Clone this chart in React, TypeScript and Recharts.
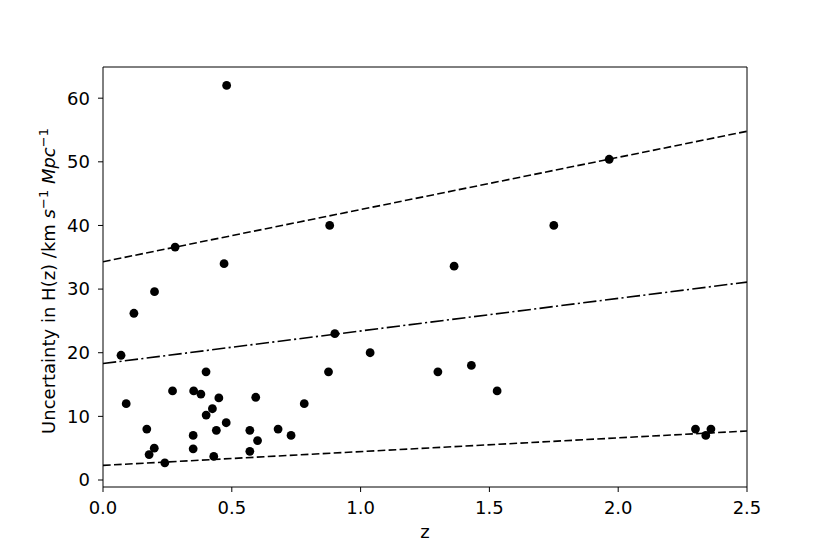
import React from "react";
import {
  ComposedChart,
  Scatter,
  Line,
  XAxis,
  YAxis,
  ReferenceArea,
  Label,
} from "recharts";

// Observational H(z) uncertainties
const zValues = [
  0.07, 0.09, 0.12, 0.17, 0.179, 0.199, 0.2, 0.24, 0.27, 0.28, 0.35, 0.35,
  0.352, 0.38, 0.4, 0.4004, 0.4247, 0.43, 0.44, 0.4497, 0.47, 0.4783, 0.48,
  0.57, 0.57, 0.5929, 0.6, 0.6797, 0.73, 0.7812, 0.8754, 0.88, 0.9, 1.037,
  1.3, 1.363, 1.43, 1.53, 1.75, 1.965, 2.3, 2.34, 2.36,
];
const sigmaValues = [
  19.6, 12, 26.2, 8, 4, 5, 29.6, 2.7, 14, 36.6, 7.0, 4.9, 14, 13.5, 17, 10.2,
  11.2, 3.7, 7.8, 12.9, 34, 9, 62, 7.8, 4.5, 13, 6.2, 8, 7, 12, 17, 40, 23, 20,
  17, 33.6, 18, 14, 40, 50.4, 8, 7, 8,
];

// Straight reference lines, endpoints at z = 0 and z = 2.5
const lineZ = [0, 2.5];
const upperLine = [34.3, 54.8];
const middleLine = [18.3, 31.1];
const lowerLine = [2.3, 7.7];

const xTicks = [0, 0.5, 1, 1.5, 2, 2.5];
const yTicks = [0, 10, 20, 30, 40, 50, 60];
const yDomain = [-1.1, 64.9];
const xDomain = [0, 2.5];

const scatterData = zValues.map((z, i) => ({ z, sigma: sigmaValues[i] }));
const mkLine = (vals: number[]) => lineZ.map((z, i) => ({ z, v: vals[i] }));

const FONT = "DejaVu Sans, sans-serif";
const FS = 18;

const Dot = (props: any) => (
  <circle cx={props.cx} cy={props.cy} r={4.4} fill="#000" />
);

export default function App() {
  return (
    <div style={{ position: "absolute", left: 0, top: 0, background: "#fff" }}>
      <ComposedChart
        width={830}
        height={554}
        margin={{ top: 67, right: 83, bottom: 27, left: 43 }}
        style={{ fontFamily: FONT }}
      >
        <XAxis
          dataKey="z"
          type="number"
          domain={xDomain}
          ticks={xTicks}
          allowDataOverflow
          axisLine={false}
          tickLine={{ stroke: "#000", strokeWidth: 1 }}
          tickSize={5}
          tickMargin={9}
          height={40}
          tick={{ fill: "#000", fontSize: FS, fontFamily: FONT }}
          tickFormatter={(v: number) => v.toFixed(1)}
        >
          <Label
            content={(p: any) => {
              const vb = p.viewBox || {};
              return (
                <text
                  x={vb.x + vb.width / 2}
                  y={vb.y + 51}
                  textAnchor="middle"
                  fontSize={FS}
                  fontFamily={FONT}
                  fill="#000"
                >
                  z
                </text>
              );
            }}
          />
        </XAxis>
        <YAxis
          dataKey="sigma"
          type="number"
          domain={yDomain}
          ticks={yTicks}
          allowDataOverflow
          axisLine={false}
          tickLine={{ stroke: "#000", strokeWidth: 1 }}
          tickSize={5}
          tickMargin={8}
          width={60}
          tick={{ fill: "#000", fontSize: FS, fontFamily: FONT }}
        >
          <Label
            content={(p: any) => {
              const vb = p.viewBox || {};
              const cx = vb.x + vb.width - 48;
              const cy = vb.y + vb.height / 2 + 4;
              return (
                <text
                  x={cx}
                  y={cy}
                  transform={`rotate(-90 ${cx} ${cy})`}
                  textAnchor="middle"
                  fontSize={FS}
                  fontFamily={FONT}
                  fill="#000"
                >
                  <tspan>Uncertainty in H(z) /km </tspan>
                  <tspan fontStyle="italic">s</tspan>
                  <tspan dy={-7} fontSize={13}>−1</tspan>
                  <tspan dy={7}> </tspan>
                  <tspan fontStyle="italic">Mpc</tspan>
                  <tspan dy={-7} fontSize={13}>−1</tspan>
                </text>
              );
            }}
          />
        </YAxis>
        <Line
          data={mkLine(upperLine)}
          dataKey="v"
          type="linear"
          stroke="#000"
          strokeWidth={1.6}
          strokeDasharray="7.7 3.3"
          dot={false}
          activeDot={false}
          isAnimationActive={false}
        />
        <Line
          data={mkLine(middleLine)}
          dataKey="v"
          type="linear"
          stroke="#000"
          strokeWidth={1.6}
          strokeDasharray="13.3 3.3 2.1 3.3"
          dot={false}
          activeDot={false}
          isAnimationActive={false}
        />
        <Line
          data={mkLine(lowerLine)}
          dataKey="v"
          type="linear"
          stroke="#000"
          strokeWidth={1.6}
          strokeDasharray="7.7 3.3"
          dot={false}
          activeDot={false}
          isAnimationActive={false}
        />
        <Scatter
          data={scatterData}
          dataKey="sigma"
          shape={Dot}
          isAnimationActive={false}
        />
        <ReferenceArea
          x1={xDomain[0]}
          x2={xDomain[1]}
          y1={yDomain[0]}
          y2={yDomain[1]}
          fill="none"
          stroke="#000"
          strokeWidth={1}
          ifOverflow="visible"
        />
      </ComposedChart>
    </div>
  );
}
